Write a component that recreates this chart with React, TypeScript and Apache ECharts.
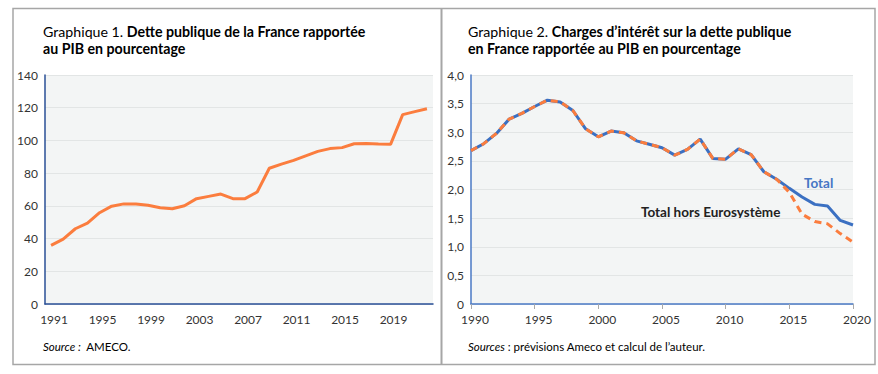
import React, { useEffect, useRef } from "react";
import * as echarts from "echarts";

const debtYears = Array.from({ length: 32 }, (_, i) => String(1991 + i));
const debtValues = [
  35.8, 39.7, 46.0, 49.4, 55.8, 59.8, 61.2, 61.2, 60.4, 58.8, 58.2, 60.1, 64.4, 65.8, 67.2, 64.4,
  64.4, 68.5, 83.0, 85.5, 87.8, 90.6, 93.3, 95.0, 95.6, 98.0, 98.1, 97.8, 97.6, 115.8, 117.6, 119.4,
];
const debtTicks = [0, 20, 40, 60, 80, 100, 120, 140];

const interestYears = Array.from({ length: 31 }, (_, i) => String(1990 + i));
const interestTotal = [
  2.68, 2.8, 2.98, 3.23, 3.33, 3.45, 3.56, 3.53, 3.38, 3.06, 2.92, 3.02, 2.99, 2.85, 2.79, 2.73,
  2.6, 2.7, 2.88, 2.54, 2.53, 2.71, 2.61, 2.31, 2.18, 2.02, 1.87, 1.74, 1.71, 1.46, 1.38,
];
const interestHorsEuro = [
  2.68, 2.8, 2.98, 3.23, 3.33, 3.45, 3.56, 3.53, 3.38, 3.06, 2.92, 3.02, 2.99, 2.85, 2.79, 2.73,
  2.6, 2.7, 2.88, 2.54, 2.53, 2.71, 2.61, 2.31, 2.18, 1.95, 1.57, 1.44, 1.4, 1.23, 1.08,
];

const FONT = "Lato";
const ORANGE = "#fb7d3e";
const BLUE = "#3b70c2";
const TITLE_BLUE = "#1f4a7a";
const TEXT = "#333333";
const PLOT_BG = "#f3f5f5";
const GRID_LINE = "#e2e5e5";

export default function App() {
  const ref = useRef<HTMLDivElement>(null);

  useEffect(() => {
    if (!ref.current) return;
    const chart = echarts.init(ref.current, null, { renderer: "svg" });
    const yLabel = { color: TEXT, fontFamily: FONT, fontSize: 12, margin: 7 };
    const xLabel = { color: TEXT, fontFamily: FONT, fontSize: 12, margin: 9 };
    const titleRich = {
      a: { fontFamily: FONT, fontSize: 14.2, color: TITLE_BLUE, fontWeight: "normal", lineHeight: 17 },
      b: { fontFamily: FONT, fontSize: 14.2, color: TITLE_BLUE, fontWeight: "bold", lineHeight: 17 },
    };
    const srcRich = {
      i: { fontFamily: FONT, fontSize: 11.5, color: "#222", fontStyle: "italic" },
      n: { fontFamily: FONT, fontSize: 11.5, color: "#222" },
    };
    chart.setOption({
      animation: false,
      backgroundColor: "#ffffff",
      grid: [
        { left: 45, right: 445, top: 75, bottom: 70, show: true, backgroundColor: PLOT_BG, borderWidth: 0 },
        { left: 471, right: 25, top: 75, bottom: 70, show: true, backgroundColor: PLOT_BG, borderWidth: 0 },
      ],
      xAxis: [
        {
          type: "category",
          gridIndex: 0,
          data: debtYears,
          boundaryGap: true,
          axisLine: { lineStyle: { color: "#2a4f96", width: 1.5 } },
          axisTick: { interval: 3, length: 5, lineStyle: { color: "#aaaaaa" } },
          axisLabel: { ...xLabel, interval: 3, padding: [0, 0, 0, 6] },
        },
        {
          type: "category",
          gridIndex: 1,
          data: interestYears,
          boundaryGap: false,
          axisLine: { lineStyle: { color: "#4a78c4", width: 1.5 } },
          axisTick: { interval: 4, length: 5, lineStyle: { color: "#aaaaaa" } },
          axisLabel: { ...xLabel, interval: 4, padding: [0, 0, 0, 8] },
        },
      ],
      yAxis: [
        {
          type: "value",
          gridIndex: 0,
          min: debtTicks[0],
          max: debtTicks[debtTicks.length - 1],
          interval: 20,
          axisLine: { show: true, lineStyle: { color: "#2a4f96", width: 1.5 } },
          axisTick: { show: false },
          splitLine: { lineStyle: { color: GRID_LINE, width: 1.2 } },
          axisLabel: yLabel,
        },
        {
          type: "value",
          gridIndex: 1,
          min: 0,
          max: 4,
          interval: 0.5,
          axisLine: { show: true, lineStyle: { color: "#4a78c4", width: 1.5 } },
          axisTick: { show: false },
          splitLine: { lineStyle: { color: GRID_LINE, width: 1.2 } },
          axisLabel: {
            ...yLabel,
            formatter: (v: number) => (v === 0 ? "0" : v.toFixed(1).replace(".", ",")),
          },
        },
      ],
      series: [
        {
          type: "line",
          name: "Dette publique",
          xAxisIndex: 0,
          yAxisIndex: 0,
          data: debtValues,
          symbol: "none",
          lineStyle: { color: ORANGE, width: 3 },
        },
        {
          type: "line",
          name: "Total",
          xAxisIndex: 1,
          yAxisIndex: 1,
          data: interestTotal,
          symbol: "none",
          lineStyle: { color: BLUE, width: 3 },
          z: 2,
        },
        {
          type: "line",
          name: "Total hors Eurosystème",
          xAxisIndex: 1,
          yAxisIndex: 1,
          data: interestHorsEuro,
          symbol: "none",
          lineStyle: { color: ORANGE, width: 3, type: [7, 5] },
          z: 3,
        },
      ],
      graphic: [
        {
          type: "rect",
          shape: { x: 13, y: 8.5, width: 862, height: 356 },
          style: { fill: "none", stroke: "#a6a6a6", lineWidth: 1.5 },
          silent: true,
        },
        {
          type: "line",
          shape: { x1: 441.5, y1: 8.5, x2: 441.5, y2: 364.5 },
          style: { stroke: "#a6a6a6", lineWidth: 2 },
          silent: true,
        },
        {
          type: "text",
          left: 43,
          top: 24,
          style: {
            text: "{a|Graphique 1. }{b|Dette publique de la France rapportée}\n{b|au PIB en pourcentage}",
            rich: titleRich,
          },
        },
        {
          type: "text",
          left: 468,
          top: 24,
          style: {
            text: "{a|Graphique 2. }{b|Charges d’intérêt sur la dette publique}\n{b|en France rapportée au PIB en pourcentage}",
            rich: titleRich,
          },
        },
        {
          type: "text",
          left: 43,
          top: 340,
          style: { text: "{i|Source :}{n|  AMECO.}", rich: srcRich },
        },
        {
          type: "text",
          left: 468,
          top: 340,
          style: { text: "{i|Sources}{n| : prévisions Ameco et calcul de l’auteur.}", rich: srcRich },
        },
        {
          type: "text",
          left: 804,
          top: 176,
          style: { text: "Total", fontFamily: FONT, fontSize: 13.5, fontWeight: "bold", fill: "#4676c4" },
        },
        {
          type: "text",
          left: 641,
          top: 205,
          style: {
            text: "Total hors Eurosystème",
            fontFamily: FONT,
            fontSize: 13.5,
            fontWeight: "bold",
            fill: "#222222",
          },
        },
      ],
    });
    return () => chart.dispose();
  }, []);

  return (
    <div
      ref={ref}
      style={{ position: "fixed", left: 0, top: 0, width: 878, height: 374 }}
    />
  );
}
